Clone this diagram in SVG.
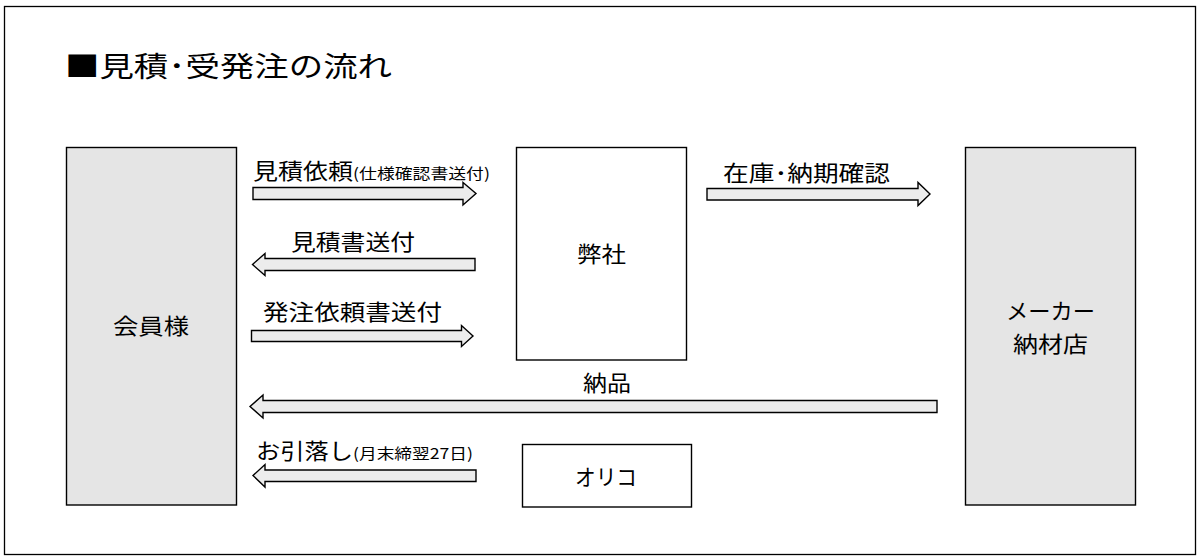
<svg xmlns="http://www.w3.org/2000/svg" width="1202" height="557" viewBox="0 0 1202 557">
<style>
text{font-family:"Noto Sans CJK JP","Noto Sans",sans-serif;fill:#000}
.box{stroke:#000;stroke-width:1.4}
.gray{fill:#e5e5e5}
.white{fill:#fff}
.arr{fill:#ececec;stroke:#000;stroke-width:1.4;stroke-linejoin:miter}
.lbl{font-size:22px}
.sm{font-size:15px}
.node{font-size:22px}
</style>
<rect x="0" y="0" width="1202" height="557" fill="#fff"/>
<rect x="4.5" y="6.5" width="1191" height="548" fill="none" stroke="#000" stroke-width="1.3"/>
<text x="65" y="77" font-size="28" textLength="327" lengthAdjust="spacingAndGlyphs">■見積･受発注の流れ</text>

<g id="kaiin">
<rect class="box gray" x="66.5" y="147.5" width="170" height="357.5"/>
<text class="node" x="113" y="334" textLength="76" lengthAdjust="spacingAndGlyphs">会員様</text>
</g>
<g id="heisha">
<rect class="box white" x="516.5" y="147.5" width="170" height="212.5"/>
<text class="node" x="577" y="262" textLength="49" lengthAdjust="spacingAndGlyphs">弊社</text>
</g>
<g id="maker">
<rect class="box gray" x="965.5" y="147.5" width="170" height="357.5"/>
<text class="node" x="1006" y="319" textLength="89" lengthAdjust="spacingAndGlyphs">メーカー</text>
<text class="node" x="1013" y="352" textLength="75" lengthAdjust="spacingAndGlyphs">納材店</text>
</g>
<g id="orico">
<rect class="box white" x="522.5" y="444.5" width="169" height="62.5"/>
<text class="node" x="575" y="485" textLength="62" lengthAdjust="spacingAndGlyphs">オリコ</text>
</g>

<g id="connectors">
<polygon class="arr" points="253,187.5 463,187.5 463,182.5 476,193.5 463,205 463,199.5 253,199.5"/>
<polygon class="arr" points="475,258.5 265,258.5 265,253.5 252.5,264.5 265,275.5 265,270.5 475,270.5"/>
<polygon class="arr" points="251.5,330.5 461.5,330.5 461.5,325.5 473,336 461.5,346.5 461.5,341.5 251.5,341.5"/>
<polygon class="arr" points="707,188.5 918,188.5 918,182.5 930,194 918,205.5 918,200 707,200"/>
<polygon class="arr" points="937,400.5 263,400.5 263,395 250,406.5 263,418 263,412.5 937,412.5"/>
<polygon class="arr" points="476,470 265,470 265,464.5 253,475.5 265,487 265,481.5 476,481.5"/>
</g>

<g id="labels">
<text class="lbl" x="253" y="179" textLength="100" lengthAdjust="spacingAndGlyphs">見積依頼</text>
<text class="sm" x="353" y="179" textLength="137" lengthAdjust="spacingAndGlyphs">(仕様確認書送付)</text>
<text class="lbl" x="291" y="250" textLength="124" lengthAdjust="spacingAndGlyphs">見積書送付</text>
<text class="lbl" x="263" y="320" textLength="179" lengthAdjust="spacingAndGlyphs">発注依頼書送付</text>
<text class="lbl" x="723" y="181" textLength="167" lengthAdjust="spacingAndGlyphs">在庫･納期確認</text>
<text class="lbl" x="583" y="391" textLength="48" lengthAdjust="spacingAndGlyphs">納品</text>
<text class="lbl" x="256" y="459" textLength="97" lengthAdjust="spacingAndGlyphs">お引落し</text>
<text class="sm" x="353" y="459" textLength="120" lengthAdjust="spacingAndGlyphs">(月末締翌27日)</text>
</g>
</svg>
